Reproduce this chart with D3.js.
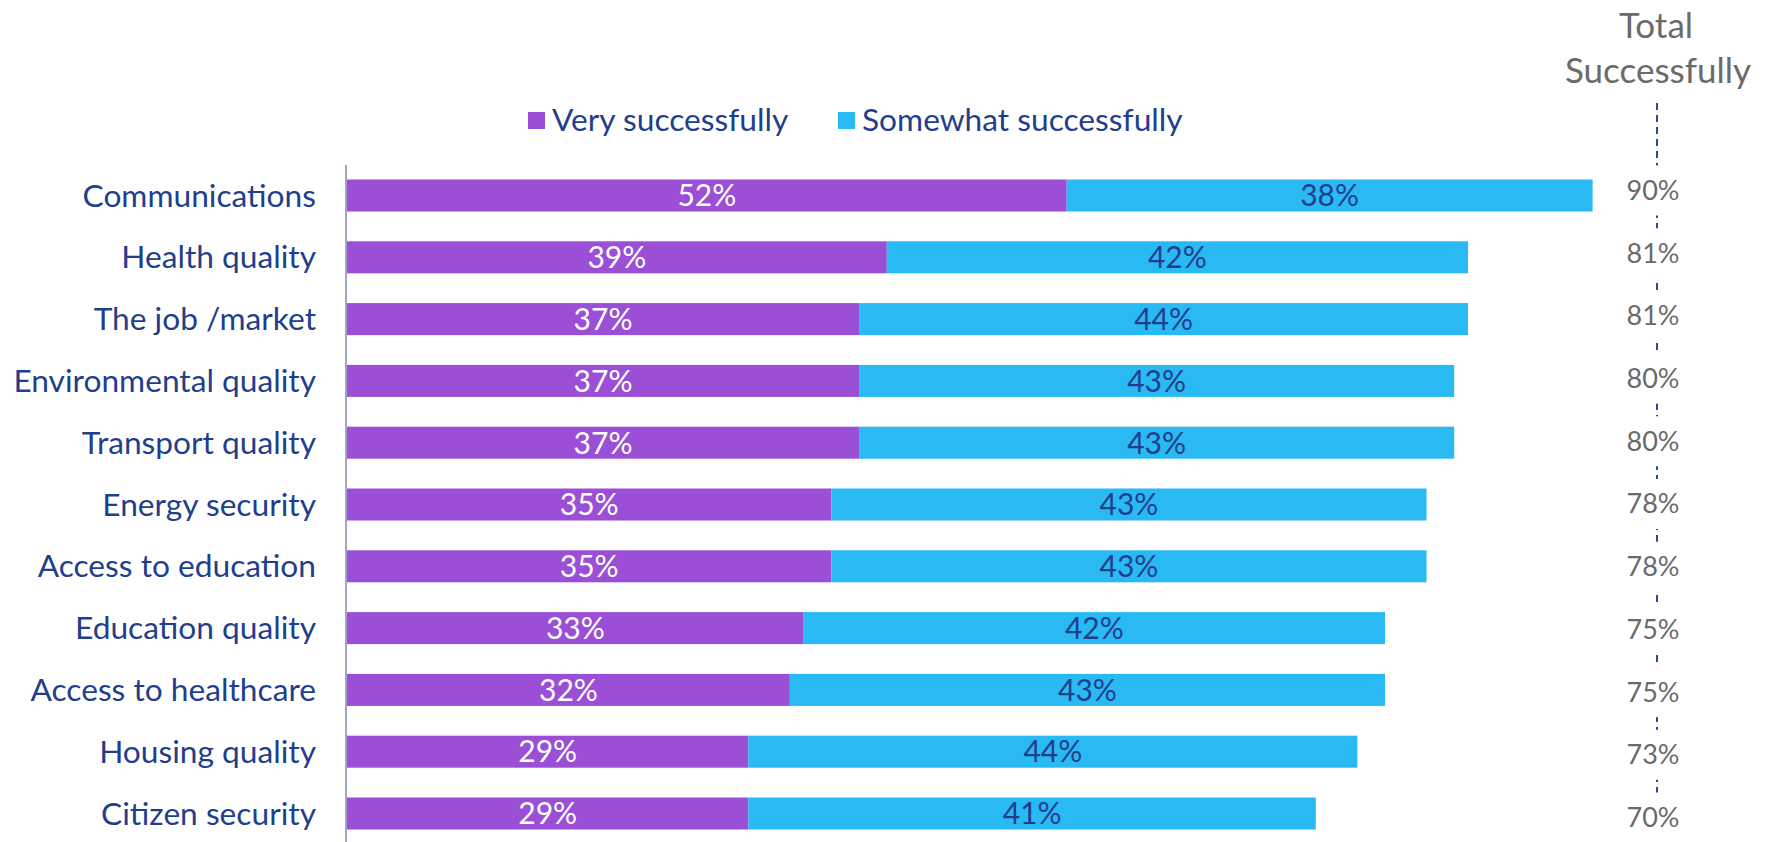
<!DOCTYPE html>
<html>
<head>
<meta charset="utf-8">
<script src="https://cdn.jsdelivr.net/npm/d3@7"></script>
<style>
  html, body { margin: 0; padding: 0; background: #ffffff; }
  svg { display: block; }
  text { font-family: Lato, "Open Sans", sans-serif; }
</style>
</head>
<body>
<svg id="chart" width="1774" height="842"></svg>
<script>
// Survey results: how successfully each area is handled
const categories = [
  "Communications", "Health quality", "The job /market", "Environmental quality",
  "Transport quality", "Energy security", "Access to education", "Education quality",
  "Access to healthcare", "Housing quality", "Citizen security"
];
const verySuccessfully = [52, 39, 37, 37, 37, 35, 35, 33, 32, 29, 29];
const somewhatSuccessfully = [38, 42, 44, 43, 43, 43, 43, 42, 43, 44, 41];
const totalSuccessfully = [90, 81, 81, 80, 80, 78, 78, 75, 75, 73, 70];
const seriesNames = ["Very successfully", "Somewhat successfully"];

const colors = { very: "#9b4fd6", somewhat: "#29b9f3" };
const labelBlue = "#1f3f8c";
const totalGrey = "#6a6a6a";

const svg = d3.select("#chart");

const rows = categories.map((c, i) => ({
  category: c,
  very: verySuccessfully[i],
  somewhat: somewhatSuccessfully[i],
  total: totalSuccessfully[i]
}));

const x = d3.scaleLinear().domain([0, 100]).range([347, 1731]);
const y = d3.scaleBand()
  .domain(categories)
  .range([179.5, 829.5])
  .paddingInner(0.482)
  .paddingOuter(0)
  .align(0);
const yTotal = d3.scalePoint().domain(categories).range([190.5, 817.5]);

// vertical axis line
svg.append("line")
  .attr("x1", 346).attr("x2", 346)
  .attr("y1", 165).attr("y2", 842)
  .attr("stroke", "#8c8fb5").attr("stroke-width", 1.6);

// category labels
svg.append("g").selectAll("text")
  .data(rows).join("text")
  .attr("x", 316)
  .attr("y", d => y(d.category) + y.bandwidth() / 2)
  .attr("dy", "0.35em")
  .attr("text-anchor", "end")
  .attr("fill", labelBlue)
  .attr("font-size", 31.7)
  .text(d => d.category);

// stacked bars
const stack = d3.stack().keys(["very", "somewhat"]);
const stacked = stack(rows);

const layers = svg.append("g").selectAll("g")
  .data(stacked).join("g")
  .attr("fill", d => colors[d.key]);

layers.selectAll("rect")
  .data(d => d.map(s => ({ s, key: d.key })))
  .join("rect")
  .attr("x", d => x(d.s[0]))
  .attr("y", d => y(d.s.data.category))
  .attr("width", d => x(d.s[1]) - x(d.s[0]))
  .attr("height", y.bandwidth());

layers.selectAll("text")
  .data(d => d.map(s => ({ s, key: d.key })))
  .join("text")
  .attr("x", d => (x(d.s[0]) + x(d.s[1])) / 2)
  .attr("y", d => y(d.s.data.category) + y.bandwidth() / 2)
  .attr("dy", "0.36em")
  .attr("text-anchor", "middle")
  .attr("font-size", 30)
  .attr("fill", d => d.key === "very" ? "#ffffff" : labelBlue)
  .text(d => (d.s[1] - d.s[0]) + "%");

// legend
const legend = svg.append("g");
const legendItems = [
  { name: seriesNames[0], color: colors.very, x: 528 },
  { name: seriesNames[1], color: colors.somewhat, x: 838 }
];
legendItems.forEach(it => {
  legend.append("rect")
    .attr("x", it.x).attr("y", 112)
    .attr("width", 17).attr("height", 17)
    .attr("fill", it.color);
  legend.append("text")
    .attr("x", it.x + 24).attr("y", 131)
    .attr("fill", labelBlue)
    .attr("font-size", 31.7)
    .text(it.name);
});

// total column: header, dashed guide, values
const totalX = 1656;
svg.append("text")
  .attr("x", totalX).attr("y", 38)
  .attr("text-anchor", "middle")
  .attr("fill", totalGrey).attr("font-size", 35)
  .text("Total");
svg.append("text")
  .attr("x", totalX + 2).attr("y", 83)
  .attr("text-anchor", "middle")
  .attr("fill", totalGrey).attr("font-size", 35)
  .text("Successfully");

svg.append("line")
  .attr("x1", totalX + 1).attr("x2", totalX + 1)
  .attr("y1", 103).attr("y2", yTotal(categories[categories.length - 1]))
  .attr("stroke", "#2b4a9b").attr("stroke-width", 2)
  .attr("stroke-dasharray", "7,5");

const totals = svg.append("g").selectAll("g")
  .data(rows).join("g")
  .attr("transform", d => `translate(${totalX - 3},${yTotal(d.category)})`);
totals.append("rect")
  .attr("x", -40).attr("y", -25)
  .attr("width", 80).attr("height", 50)
  .attr("fill", "#ffffff");
totals.append("text")
  .attr("text-anchor", "middle")
  .attr("dy", "0.35em")
  .attr("fill", totalGrey)
  .attr("font-size", 27)
  .text(d => d.total + "%");
</script>
</body>
</html>
